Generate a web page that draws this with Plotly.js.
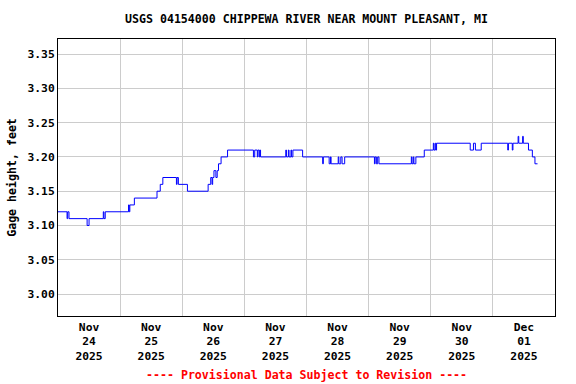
<!DOCTYPE html>
<html>
<head>
<meta charset="utf-8">
<script src="https://cdn.plot.ly/plotly-3.0.1.min.js"></script>
<style>html,body{margin:0;padding:0;background:#fff;}#chart{width:576px;height:384px;}</style>
</head>
<body>
<div id="chart"></div>
<script>
const chartTitle = 'USGS 04154000 CHIPPEWA RIVER NEAR MOUNT PLEASANT, MI';
const yTitle = 'Gage height, feet';
const footer = '---- Provisional Data Subject to Revision ----';

const times = [
'2025-11-24 00:00','2025-11-24 03:30','2025-11-24 03:45','2025-11-24 04:15','2025-11-24 11:15',
'2025-11-24 12:00','2025-11-24 17:30','2025-11-24 17:45','2025-11-24 18:15','2025-11-25 03:15',
'2025-11-25 03:30','2025-11-25 03:45','2025-11-25 05:30','2025-11-25 14:15','2025-11-25 15:30',
'2025-11-25 16:30','2025-11-25 21:45','2025-11-25 22:00','2025-11-25 22:30','2025-11-26 02:00',
'2025-11-26 10:00','2025-11-26 11:00','2025-11-26 11:30','2025-11-26 11:45','2025-11-26 12:15',
'2025-11-26 13:00','2025-11-26 13:30','2025-11-26 14:00','2025-11-26 15:00','2025-11-26 17:30',
'2025-11-27 03:30','2025-11-27 04:00','2025-11-27 05:00','2025-11-27 05:15','2025-11-27 05:45',
'2025-11-27 06:00','2025-11-27 06:15','2025-11-27 16:00','2025-11-27 16:15','2025-11-27 17:00',
'2025-11-27 17:15','2025-11-27 18:00','2025-11-27 18:15','2025-11-27 18:45','2025-11-27 22:30',
'2025-11-28 06:15','2025-11-28 06:30','2025-11-28 08:45','2025-11-28 09:15','2025-11-28 09:30',
'2025-11-28 12:15','2025-11-28 12:30','2025-11-28 13:15','2025-11-28 13:45','2025-11-28 14:45',
'2025-11-29 02:15','2025-11-29 02:30','2025-11-29 03:00','2025-11-29 03:30','2025-11-29 04:00',
'2025-11-29 16:30','2025-11-29 16:45','2025-11-29 17:15','2025-11-29 17:30','2025-11-29 18:15',
'2025-11-29 21:30','2025-11-30 01:00','2025-11-30 01:15','2025-11-30 01:45','2025-11-30 02:00',
'2025-11-30 02:15','2025-11-30 15:15','2025-11-30 16:30','2025-11-30 17:15','2025-11-30 19:30',
'2025-12-01 05:45','2025-12-01 06:00','2025-12-01 07:30','2025-12-01 07:45','2025-12-01 09:45',
'2025-12-01 10:00','2025-12-01 11:30','2025-12-01 11:45','2025-12-01 13:45','2025-12-01 15:15',
'2025-12-01 16:15','2025-12-01 17:15'
];
const gageHeight = [
3.12,3.11,3.12,3.11,3.10,
3.11,3.12,3.11,3.12,3.13,
3.12,3.13,3.14,3.15,3.16,
3.17,3.16,3.17,3.16,3.15,
3.16,3.17,3.16,3.17,3.18,
3.17,3.18,3.19,3.20,3.21,
3.20,3.21,3.20,3.21,3.20,
3.21,3.20,3.21,3.20,3.21,
3.20,3.21,3.20,3.21,3.20,
3.19,3.20,3.19,3.20,3.19,
3.20,3.19,3.20,3.19,3.20,
3.19,3.20,3.19,3.20,3.19,
3.20,3.19,3.20,3.19,3.20,
3.21,3.22,3.21,3.22,3.21,
3.22,3.21,3.22,3.21,3.22,
3.21,3.22,3.21,3.22,3.23,
3.22,3.23,3.22,3.21,3.20,
3.19,3.19
];

const dayLabelPos = ['2025-11-24 12:00','2025-11-25 12:00','2025-11-26 12:00','2025-11-27 12:00',
                     '2025-11-28 12:00','2025-11-29 12:00','2025-11-30 12:00','2025-12-01 12:00'];
const dayLabels = ['Nov<br>24<br>2025','Nov<br>25<br>2025','Nov<br>26<br>2025','Nov<br>27<br>2025',
                   'Nov<br>28<br>2025','Nov<br>29<br>2025','Nov<br>30<br>2025','Dec<br>01<br>2025'];
const dayGrid = ['2025-11-25','2025-11-26','2025-11-27','2025-11-28','2025-11-29','2025-11-30','2025-12-01'];
const yTicks = [3.00,3.05,3.10,3.15,3.20,3.25,3.30,3.35];
const xRange = ['2025-11-24 00:00','2025-12-02 00:00'];
const yRange = [2.968, 3.372];

const fontFam = 'DejaVu Sans Mono, monospace';

const trace = {
  x: times, y: gageHeight, type: 'scatter', mode: 'lines',
  line: {color: '#0000ff', width: 1, shape: 'hv'},
  hoverinfo: 'skip'
};

const layout = {
  width: 576, height: 384,
  margin: {l: 58, r: 21, t: 39, b: 68, pad: 0},
  paper_bgcolor: '#ffffff', plot_bgcolor: '#ffffff',
  showlegend: false,
  font: {family: fontFam, size: 11.3, color: '#000', weight: 'bold'},
  title: {
    text: chartTitle, x: 0.5, xref: 'paper', y: 1 - 19/384, yref: 'container',
    xanchor: 'center', yanchor: 'middle',
    font: {family: fontFam, size: 11.6, color: '#000', weight: 'bold'}
  },
  xaxis: {
    type: 'date', range: xRange, tickmode: 'array', tickvals: dayLabelPos, ticktext: dayLabels,
    showgrid: false, ticks: '', showline: true, mirror: true, linecolor: '#000', linewidth: 1,
    zeroline: false, fixedrange: true,
    tickfont: {family: fontFam, size: 11.3, color: '#000', weight: 'bold'},
    minor: {tickmode: 'array', tickvals: dayGrid, showgrid: true, gridcolor: '#cccccc', gridwidth: 1, ticks: ''}
  },
  yaxis: {
    range: yRange, tickmode: 'array', tickvals: yTicks, tickformat: '.2f',
    showgrid: true, gridcolor: '#cccccc', gridwidth: 1, ticks: '',
    showline: true, mirror: true, linecolor: '#000', linewidth: 1, zeroline: false, fixedrange: true,
    tickfont: {family: fontFam, size: 11.3, color: '#000', weight: 'bold'},
    title: {text: yTitle, standoff: 8, font: {family: fontFam, size: 11.6, color: '#000', weight: 'bold'}}
  },
  annotations: [{
    text: footer, xref: 'paper', yref: 'paper', x: 0.5, y: (316 - 375) / 277,
    xanchor: 'center', yanchor: 'middle', showarrow: false,
    font: {family: fontFam, size: 11.6, color: '#ff0000', weight: 'bold'}
  }]
};

Plotly.newPlot('chart', [trace], layout, {displayModeBar: false, staticPlot: true});
</script>
</body>
</html>
